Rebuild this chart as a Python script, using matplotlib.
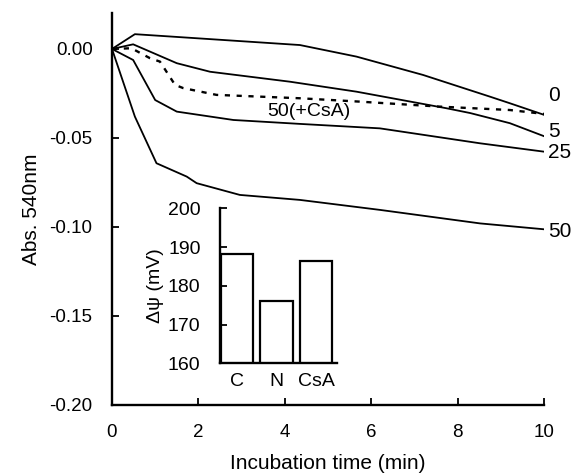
import matplotlib
matplotlib.use('Agg')
import matplotlib.pyplot as plt
from matplotlib.ticker import FixedLocator, FixedFormatter

plt.rcParams['font.family'] = ['Liberation Sans', 'DejaVu Sans']

# absorbance traces (time in min, abs. change at 540 nm)
t_0 = [0, 0.53, 4.35, 5.66, 7.2, 8.75, 9.21, 10]
abs_0 = [0, 0.0083, 0.0022, -0.0043, -0.0146, -0.0268, -0.0305, -0.037]

t_5 = [0, 0.49, 1.5, 2.27, 4.12, 5.66, 7.74, 8.29, 9.21, 10]
abs_5 = [0, 0.0026, -0.008, -0.0128, -0.0184, -0.024, -0.0333, -0.036, -0.0417, -0.049]

t_csa = [0, 0.45, 0.88, 1.11, 1.46, 1.65, 2.42, 4.35, 5.74, 7.59, 9.21, 10]
abs_csa = [0, 0.0004, -0.0052, -0.0071, -0.0202, -0.022, -0.0258, -0.0277,
           -0.0296, -0.0324, -0.0343, -0.0365]

t_25 = [0, 0.49, 1.0, 1.5, 2.81, 4.35, 6.2, 8.52, 10]
abs_25 = [0, -0.0062, -0.0287, -0.0352, -0.0399, -0.0421, -0.0446, -0.053, -0.0577]

t_50 = [0, 0.53, 1.03, 1.73, 1.96, 2.96, 4.35, 6.2, 8.52, 10]
abs_50 = [0, -0.038, -0.0642, -0.0717, -0.0754, -0.082, -0.0848, -0.0904, -0.098, -0.1013]

# end labels (concentration) and where they sit
end_labels = ['0', '5', '25', '50']
end_label_y = [-0.026, -0.0466, -0.0581, -0.1026]

# membrane potential inset
bar_cats = ['C', 'N', 'CsA']
bar_vals = [188.2, 176.1, 186.5]

yticks = [0, -0.05, -0.10, -0.15, -0.20]
ytick_labels = ['0.00', '-0.05', '-0.10', '-0.15', '-0.20']

fig = plt.figure(figsize=(5.74, 4.76), dpi=100)
ax = fig.add_axes([0.1951, 0.1492, 0.7526, 0.8235])

lw = 1.3
ax.plot(t_0, abs_0, color='black', lw=lw)
ax.plot(t_5, abs_5, color='black', lw=lw)
ax.plot(t_csa, abs_csa, color='black', lw=1.7, dashes=(2.2, 2.8))
ax.plot(t_25, abs_25, color='black', lw=lw)
ax.plot(t_50, abs_50, color='black', lw=lw)

for lab, yy in zip(end_labels, end_label_y):
    ax.text(10.1, yy, lab, fontsize=15, ha='left', va='center', clip_on=False)
ax.text(3.6, -0.035, '50(+CsA)', fontsize=14, ha='left', va='center')

ax.set_xlim(0, 10)
ax.set_ylim(-0.20, 0.0202)
ax.set_xticks([0, 2, 4, 6, 8, 10])
ax.yaxis.set_major_locator(FixedLocator(yticks))
ax.yaxis.set_major_formatter(FixedFormatter(ytick_labels))
ax.spines['top'].set_visible(False)
ax.spines['right'].set_visible(False)
for s in ['left', 'bottom']:
    ax.spines[s].set_linewidth(1.7)
ax.tick_params(direction='in', length=5, width=1.3, labelsize=13.5, pad=14)
ax.set_xlabel('Incubation time (min)', fontsize=15, labelpad=9)
ax.set_ylabel('Abs. 540nm', fontsize=15, labelpad=6)

# inset bar chart
ins = fig.add_axes([0.3833, 0.2368, 0.2038, 0.3256])
ins.bar(range(len(bar_cats)), bar_vals, width=0.82, color='white',
        edgecolor='black', linewidth=1.6)
ins.set_xlim(-0.43, 2.53)
ins.set_ylim(160, 200)
ins.set_yticks([160, 170, 180, 190, 200])
ins.set_xticks(range(len(bar_cats)))
ins.set_xticklabels(bar_cats)
ins.spines['top'].set_visible(False)
ins.spines['right'].set_visible(False)
for s in ['left', 'bottom']:
    ins.spines[s].set_linewidth(1.7)
ins.tick_params(axis='y', direction='in', length=5, width=1.3, labelsize=14, pad=14)
ins.tick_params(axis='x', length=0, labelsize=14, pad=7)
ins.set_ylabel('Δψ (mV)', fontsize=14, labelpad=3)
ins.patch.set_alpha(0)

fig.savefig('out.png', dpi=100)
